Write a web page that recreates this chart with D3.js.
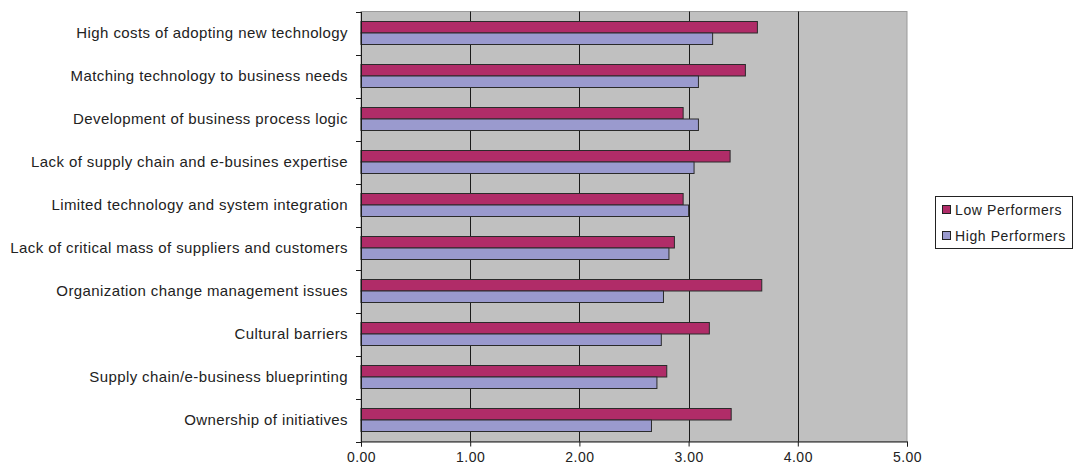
<!DOCTYPE html>
<html><head><meta charset="utf-8">
<script src="https://cdn.jsdelivr.net/npm/d3@7"></script>
<style>
html,body{margin:0;padding:0;background:#fff;}
text{font-family:"Liberation Sans",Arial,sans-serif;fill:#222;}
</style></head>
<body><svg id="c" width="1075" height="468"></svg>
<script>
const categories = [
  "High costs of adopting new technology",
  "Matching technology to business needs",
  "Development of business process logic",
  "Lack of supply chain and e-busines expertise",
  "Limited technology and system integration",
  "Lack of critical mass of suppliers and customers",
  "Organization change management issues",
  "Cultural barriers",
  "Supply chain/e-business blueprinting",
  "Ownership of initiatives"
];
const seriesNames = ["Low Performers", "High Performers"];
const lowPerformers  = [3.63, 3.52, 2.95, 3.38, 2.95, 2.87, 3.67, 3.19, 2.80, 3.39];
const highPerformers = [3.22, 3.09, 3.09, 3.05, 3.00, 2.82, 2.77, 2.75, 2.71, 2.66];
const xTicks = [0, 1, 2, 3, 4, 5];
const colors = ["#B02C68", "#9A9ACE"];

const svg = d3.select("#c");
const L = 361, R = 907, T = 11.5, B = 441.5;
const FONT = '"Liberation Sans",Arial,sans-serif';

const x = d3.scaleLinear().domain([0, 5]).range([L, R]);
const y = d3.scaleBand().domain(categories).range([T, B]).padding(0);
const yi = d3.scaleBand().domain(seriesNames).range([0, y.bandwidth()]).paddingInner(0).paddingOuter(0.87);

// plot area
svg.append("rect").attr("x", L).attr("y", T).attr("width", R - L).attr("height", B - T)
  .attr("fill", "#C0C0C0").attr("stroke", "#9a9a9a").attr("stroke-width", 1);

// gridlines
svg.append("g").selectAll("line").data(xTicks.filter(d => d > 0 && d < 5)).join("line")
  .attr("x1", d => Math.round(x(d)) + 0.5).attr("x2", d => Math.round(x(d)) + 0.5)
  .attr("y1", T).attr("y2", B).attr("stroke", "#1a1a1a").attr("stroke-width", 1);

// bars
const g = svg.append("g").selectAll("g").data(categories).join("g")
  .attr("transform", d => `translate(0,${y(d)})`);
const vals = [lowPerformers, highPerformers];
g.selectAll("rect").data((d, i) => seriesNames.map((s, k) => ({s, k, v: vals[k][i]}))).join("rect")
  .attr("x", x(0)).attr("y", d => yi(d.s))
  .attr("width", d => x(d.v) - x(0)).attr("height", yi.bandwidth())
  .attr("fill", d => colors[d.k]).attr("stroke", "#2a2a2a").attr("stroke-width", 1);

// x axis
const xAxis = d3.axisBottom(x).tickValues(xTicks).tickFormat(d3.format(".2f")).tickSize(5).tickPadding(6);
const xa = svg.append("g").attr("transform", `translate(0,${B})`).call(xAxis);
xa.select(".domain").attr("stroke", "#1a1a1a");
xa.selectAll("line").attr("stroke", "#1a1a1a");
xa.selectAll("text").attr("font-size", 14).attr("fill", "#222").style("font-family", FONT)
  .style("letter-spacing", "0.5px");

// y axis
const ya = svg.append("g").attr("transform", `translate(${L},0)`)
  .call(d3.axisLeft(y).tickSize(0).tickPadding(13));
ya.select(".domain").attr("stroke", "#1a1a1a");
ya.selectAll("text").attr("font-size", 15).attr("fill", "#222").style("font-family", FONT)
  .style("letter-spacing", "0.4px");
// category separator ticks
svg.append("g").selectAll("line").data(categories.concat(["_end"])).join("line")
  .attr("x1", L - 5).attr("x2", L)
  .attr("y1", (d, i) => Math.round(T + i * y.step()) + 0.5)
  .attr("y2", (d, i) => Math.round(T + i * y.step()) + 0.5)
  .attr("stroke", "#1a1a1a");

// legend
const lg = svg.append("g");
lg.append("rect").attr("x", 935.5).attr("y", 196.5).attr("width", 137).attr("height", 52)
  .attr("fill", "#fff").attr("stroke", "#222");
seriesNames.forEach((s, k) => {
  const yy = 210 + k * 26;
  lg.append("rect").attr("x", 942.5).attr("y", yy - 4.5).attr("width", 8).attr("height", 8)
    .attr("fill", colors[k]).attr("stroke", "#222");
  lg.append("text").attr("x", 955).attr("y", yy).attr("dy", "0.35em")
    .attr("font-size", 14).style("letter-spacing", "0.6px").text(s);
});
</script></body></html>
